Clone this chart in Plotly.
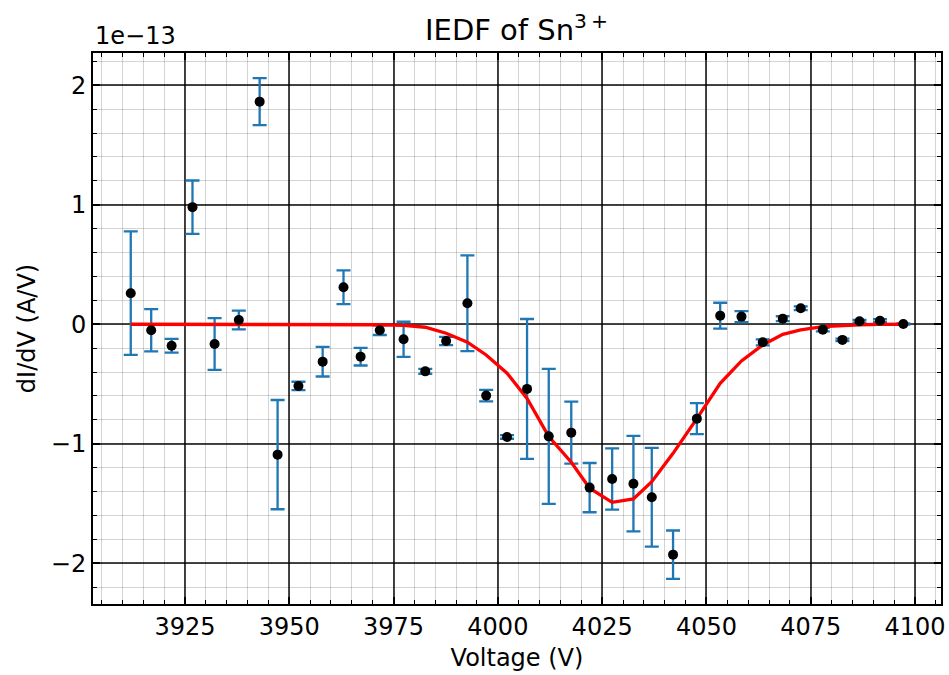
import plotly.graph_objects as go

# Data (dI/dV in units of 1e-13 A/V)
voltage = [3912.0, 3916.9, 3921.8, 3926.8, 3932.1, 3937.9, 3942.9, 3947.2, 3952.2, 3958.0,
           3963.0, 3967.1, 3971.7, 3977.4, 3982.6, 3987.6, 3992.7, 3997.2, 4002.2, 4007.0,
           4012.2, 4017.6, 4022.0, 4027.4, 4032.5, 4036.9, 4042.0, 4047.7, 4053.3, 4058.4,
           4063.5, 4068.3, 4072.6, 4077.9, 4082.6, 4086.7, 4091.6, 4097.2]
didv = [0.26, -0.05, -0.18, 0.98, -0.165, 0.036, 1.863, -1.091, -0.516, -0.313,
        0.31, -0.271, -0.05, -0.126, -0.394, -0.14, 0.176, -0.597, -0.943, -0.541,
        -0.938, -0.907, -1.367, -1.295, -1.334, -1.448, -1.928, -0.79, 0.072, 0.064,
        -0.151, 0.047, 0.134, -0.045, -0.131, 0.025, 0.03, 0.002]
didv_err = [0.517, 0.177, 0.057, 0.223, 0.217, 0.078, 0.197, 0.457, 0.035, 0.124,
            0.141, 0.074, 0.04, 0.147, 0.02, 0.035, 0.4, 0.048, 0.015, 0.585,
            0.565, 0.259, 0.206, 0.256, 0.4, 0.413, 0.202, 0.13, 0.108, 0.046,
            0.025, 0.02, 0.015, 0.015, 0.01, 0.012, 0.012, 0.005]
fit = [0, 0, 0, 0, 0, 0, 0, 0, 0, 0,
       0, -0.001, -0.004, -0.01, -0.025, -0.075, -0.15, -0.257, -0.41, -0.62,
       -0.94, -1.155, -1.372, -1.49, -1.462, -1.317, -1.08, -0.79, -0.494, -0.307,
       -0.173, -0.084, -0.048, -0.02, -0.01, -0.004, -0.001, 0]

x_ticks = [3925, 3950, 3975, 4000, 4025, 4050, 4075, 4100]
y_ticks = [-2, -1, 0, 1, 2]

FONT = "DejaVu Sans"
fig = go.Figure()

fig.add_trace(go.Scatter(
    x=voltage, y=didv, mode="markers",
    marker=dict(size=10, color="black", opacity=0),
    error_y=dict(type="data", array=didv_err, visible=True, color="#1f77b4",
                 thickness=2.3, width=7),
    showlegend=False, hoverinfo="skip"))

fig.add_trace(go.Scatter(
    x=voltage, y=fit, mode="lines", line=dict(color="red", width=3.3),
    showlegend=False))

fig.add_trace(go.Scatter(
    x=voltage, y=didv, mode="markers",
    marker=dict(size=10, color="black"),
    showlegend=False))

major_grid = "rgba(0,0,0,0.72)"
minor_grid = "rgba(0,0,0,0.17)"

fig.update_xaxes(
    range=[3902.95, 4106.23], tickvals=x_ticks, ticks="inside", ticklen=7, tickwidth=1.5,
    tickcolor="black", showline=True, linecolor="black", linewidth=2, mirror="allticks",
    showgrid=True, gridcolor=major_grid, gridwidth=1.5, zeroline=False,
    tickfont=dict(family=FONT, size=24, color="black"),
    title=dict(text="Voltage (V)", font=dict(family=FONT, size=24, color="black"), standoff=9),
    minor=dict(dtick=5, tick0=3900, ticks="inside", ticklen=4, tickwidth=1, tickcolor="black",
               showgrid=True, gridcolor=minor_grid, gridwidth=1),
)
fig.update_yaxes(
    range=[-2.341, 2.270], tickvals=y_ticks, ticks="inside", ticklen=7, tickwidth=1.5,
    tickcolor="black", showline=True, linecolor="black", linewidth=2, mirror="allticks",
    showgrid=True, gridcolor=major_grid, gridwidth=1.5, zeroline=False,
    tickfont=dict(family=FONT, size=24, color="black"),
    title=dict(text="dI/dV (A/V)", font=dict(family=FONT, size=24, color="black"), standoff=8),
    minor=dict(dtick=0.2, tick0=0, ticks="inside", ticklen=4, tickwidth=1, tickcolor="black",
               showgrid=True, gridcolor=minor_grid, gridwidth=1),
)

fig.update_layout(
    width=949, height=675,
    margin=dict(l=93, r=8, t=53, b=71, autoexpand=False),
    plot_bgcolor="white", paper_bgcolor="white",
    font=dict(family=FONT, color="black"),
    title=dict(text="IEDF of Sn<sup>3\u2009+</sup>", font=dict(family=FONT, size=29, color="black"),
               x=0.5443, xanchor="center", y=1 - 30 / 675, yanchor="middle", yref="container"),
    annotations=[dict(text="1e\u221213", xref="paper", yref="paper", x=0, y=1,
                      xanchor="left", yanchor="bottom", yshift=1, showarrow=False,
                      font=dict(family=FONT, size=24, color="black"))],
)

fig.write_html("out.html")
